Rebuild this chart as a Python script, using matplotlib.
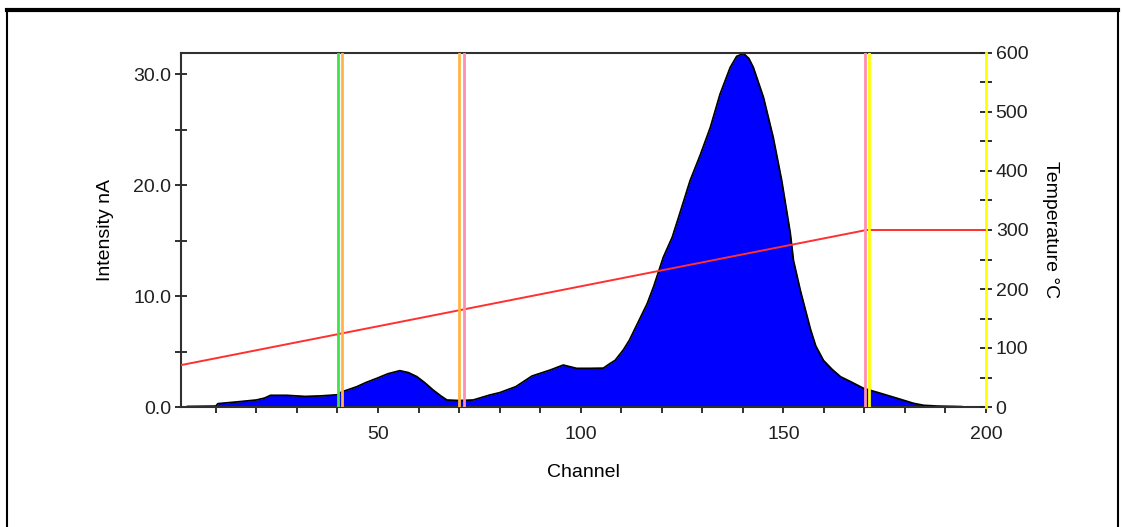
import numpy as np
import matplotlib
matplotlib.use('Agg')
import matplotlib.pyplot as plt
from matplotlib.lines import Line2D
from matplotlib.ticker import MultipleLocator, FormatStrFormatter

plt.rcParams['font.family'] = ['Liberation Sans', 'DejaVu Sans']

# intensity trace
canal = [3, 10, 10.5, 15, 20, 22, 23.5, 27.5, 32, 36,
         40, 41, 44.8, 47, 49.7, 52.5, 55.4, 57.5, 59.6, 61.5,
         63.6, 65.5, 67, 70, 73.5, 77.6, 80, 84, 88, 92.5,
         95.7, 99, 102.3, 105.6, 107.3, 108.5, 110.5, 112, 114, 116.4,
         118, 120.4, 122.6, 124.6, 127, 129.5, 132, 134.4, 136.9, 138.5,
         140.2, 141.5, 142.6, 145.1, 147.5, 149.6, 151.7, 152.5, 154.2, 156.7,
         158, 159.9, 162, 164.1, 166.5, 169.8, 174, 178.1, 182.1, 184.6,
         188, 192, 194]
intensidad = [0.05, 0.08, 0.3, 0.45, 0.63, 0.8, 1.05, 1.05, 0.95, 1.0,
              1.1, 1.35, 1.83, 2.2, 2.58, 3.0, 3.27, 3.1, 2.73, 2.2,
              1.53, 1.0, 0.63, 0.58, 0.63, 1.08, 1.29, 1.83, 2.79, 3.33,
              3.78, 3.48, 3.48, 3.5, 3.93, 4.2, 5.13, 6.0, 7.5, 9.3,
              10.84, 13.5, 15.3, 17.6, 20.4, 22.7, 25.2, 28.2, 30.6, 31.6,
              31.85, 31.4, 30.6, 27.9, 24.3, 20.4, 15.7, 13.2, 10.5, 7.0,
              5.5, 4.2, 3.4, 2.73, 2.3, 1.68, 1.23, 0.78, 0.33, 0.15,
              0.08, 0.05, 0.03]

# temperature ramp
canal_temp = [1.4, 170.5, 200]
temperatura = [71, 300, 300]

# vertical markers
marcas = [40.2, 41.2, 70.0, 71.1, 170.1, 171.2]
colores_marcas = ['#44e044', '#ffb444', '#ffb444', '#ff8fb0', '#ff8fb0', '#ffff00']

fs = 14
fig = plt.figure(figsize=(11.22, 5.27), dpi=100)
ax = fig.add_axes([181/1122, 1-407/527, (986-181)/1122, (407-53)/527])

ax.fill_between(canal, intensidad, 0, color='#0000ff', lw=0, zorder=1)
ax.plot(canal, intensidad, color='black', lw=1.3, zorder=2)

ax.set_xlim(1.4, 200)
ax.set_ylim(0, 31.9)

ax.xaxis.set_major_locator(MultipleLocator(50))
ax.xaxis.set_minor_locator(MultipleLocator(10))
ax.yaxis.set_major_locator(MultipleLocator(10))
ax.yaxis.set_minor_locator(MultipleLocator(5))
ax.yaxis.set_major_formatter(FormatStrFormatter('%.1f'))

ax.tick_params(axis='x', which='both', direction='out', length=4, width=1.3,
               labelsize=fs, pad=10, colors='#202020')
ax.tick_params(axis='y', which='both', direction='inout', length=8, width=1.3,
               labelsize=fs, pad=3, colors='#202020')
for s in ['left', 'bottom', 'top']:
    ax.spines[s].set_linewidth(1.5)
    ax.spines[s].set_color('#303030')
ax.spines['right'].set_visible(False)

ax.set_xlabel('Channel', fontsize=fs, labelpad=15)
ax.set_ylabel('Intensity nA', fontsize=fs, labelpad=14)

ax2 = ax.twinx()
ax2.plot(canal_temp, temperatura, color='#ff3030', lw=1.4, zorder=3)
ax2.set_ylim(0, 600)
ax2.yaxis.set_major_locator(MultipleLocator(100))
ax2.yaxis.set_minor_locator(MultipleLocator(50))
ax2.tick_params(axis='y', which='both', direction='inout', length=8, width=1.3,
                labelsize=fs, pad=3, colors='#202020')
for s in ['left', 'bottom', 'top']:
    ax2.spines[s].set_visible(False)
ax2.spines['right'].set_color('#ffff00')
ax2.spines['right'].set_linewidth(2)
ax2.set_ylabel('Temperature \u00b0C', fontsize=fs, rotation=-90, labelpad=22)

for m, c in zip(marcas, colores_marcas):
    ax2.axvline(m, color=c, lw=2, zorder=4)

# frame around the figure
fig.add_artist(Line2D([7/1122, 1118/1122], [1-10/527, 1-10/527], color='black', lw=3))
fig.add_artist(Line2D([7/1122, 7/1122], [0, 1-10/527], color='black', lw=1.5))
fig.add_artist(Line2D([1118/1122, 1118/1122], [0, 1-10/527], color='black', lw=1.5))

fig.savefig('out.png', dpi=100)
